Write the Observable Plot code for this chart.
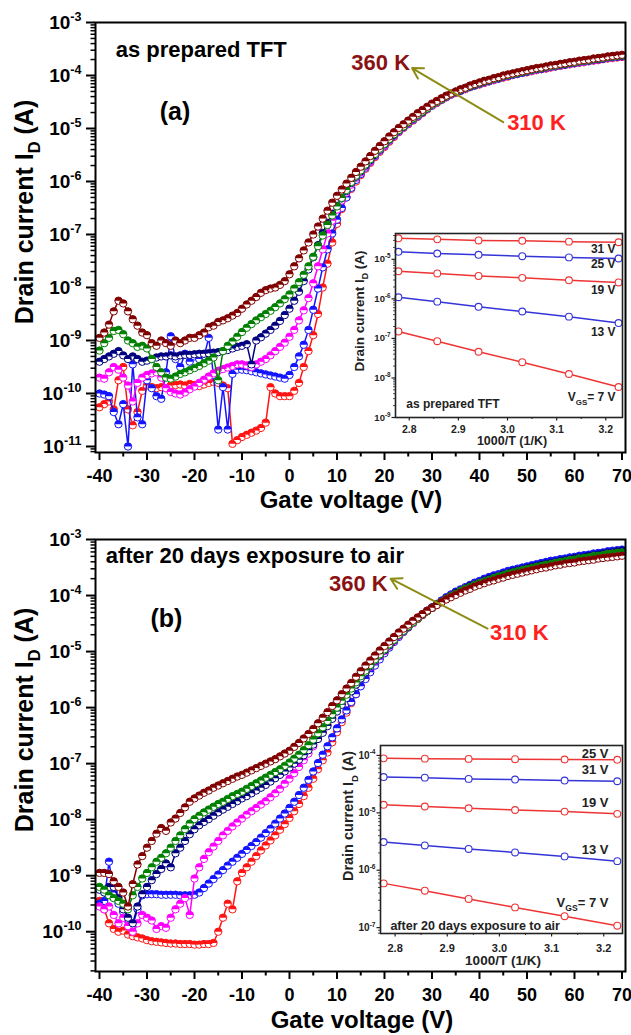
<!DOCTYPE html>
<html><head><meta charset="utf-8">
<script src="https://cdn.jsdelivr.net/npm/d3@7"></script>
<script src="https://cdn.jsdelivr.net/npm/@observablehq/plot@0.6"></script>
<style>
body{margin:0;background:#fff;}
#root{position:relative;width:631px;height:1035px;overflow:hidden;background:#fff;}
#root svg{position:absolute;overflow:visible;}
</style></head><body><div id="root"></div>
<script>
// ---------------- DATA ----------------
const gateVoltage = [-40,-39,-38,-37,-36,-35,-34,-33,-32,-31,-30,-29,-28,-27,-26,-25,-24,-23,-22,-21,-20,-19,-18,-17,-16,-15,-14,-13,-12,-11,-10,-9,-8,-7,-6,-5,-4,-3,-2,-1,0,1,2,3,4,5,6,7,8,9,10,11,12,13,14,15,16,17,18,19,20,21,22,23,24,25,26,27,28,29,30,31,32,33,34,35,36,37,38,39,40,41,42,43,44,45,46,47,48,49,50,51,52,53,54,55,56,57,58,59,60,61,62,63,64,65,66,67,68,69,70];
const temperaturesK = [310, 320, 330, 340, 350, 360];
const seriesColors = ["#ff1414", "#1414ff", "#ff00ff", "#000080", "#008000", "#800000"];

// log10 of drain current (A), panel (a) as prepared TFT
const logId_a_310K = [-10.26,-10.2,-10.15,-10.3,-9.75,-9.5,-10.3,-10.6,-10.35,-9.95,
 -9.85,-9.88,-9.9,-9.88,-9.9,-9.85,-9.84,-9.83,-9.85,-9.82,
 -9.84,-9.86,-9.83,-9.8,-9.78,-9.8,-9.85,-9.9,-10.95,-10.88,
 -10.82,-10.78,-10.74,-10.7,-10.65,-10.55,-9.88,-10.0,-10.05,-10.05,
 -10.05,-9.95,-9.8,-9.5,-9.2,-8.9,-8.5,-8.0,-7.55,-7.15,
 -6.8,-6.52,-6.3,-6.14,-6.0,-5.88,-5.76,-5.65,-5.54,-5.44,
 -5.35,-5.25,-5.16,-5.07,-4.99,-4.92,-4.85,-4.78,-4.71,-4.64,
 -4.57,-4.52,-4.46,-4.41,-4.36,-4.33,-4.29,-4.26,-4.22,-4.19,
 -4.17,-4.14,-4.11,-4.09,-4.06,-4.04,-4.02,-3.99,-3.97,-3.95,
 -3.94,-3.92,-3.9,-3.88,-3.87,-3.85,-3.83,-3.82,-3.8,-3.79,
 -3.77,-3.76,-3.75,-3.73,-3.72,-3.71,-3.69,-3.68,-3.67,-3.66,-3.65];
const logId_a_320K = [-10.0,-10.02,-10.05,-10.35,-10.58,-10.2,-11.0,-9.45,-10.45,-10.58,
 -9.75,-9.9,-10.05,-10.1,-9.6,-8.92,-9.35,-9.5,-9.25,-9.4,
 -9.3,-9.35,-9.3,-8.95,-9.65,-10.68,-9.88,-10.68,-9.63,-9.55,
 -9.55,-9.56,-9.58,-9.6,-9.62,-9.64,-9.66,-9.68,-9.7,-9.72,
 -9.65,-9.5,-9.3,-9.08,-8.8,-8.42,-8.02,-7.62,-7.28,-6.98,
 -6.72,-6.5,-6.3,-6.12,-5.97,-5.86,-5.74,-5.63,-5.52,-5.42,
 -5.33,-5.23,-5.14,-5.06,-4.98,-4.91,-4.84,-4.77,-4.7,-4.63,
 -4.57,-4.51,-4.46,-4.41,-4.36,-4.32,-4.29,-4.25,-4.22,-4.19,
 -4.16,-4.13,-4.11,-4.08,-4.06,-4.03,-4.01,-3.99,-3.97,-3.95,
 -3.93,-3.91,-3.89,-3.88,-3.86,-3.84,-3.83,-3.81,-3.8,-3.78,
 -3.77,-3.75,-3.74,-3.73,-3.71,-3.7,-3.69,-3.67,-3.66,-3.65,-3.64];
const logId_a_330K = [-9.7,-9.72,-9.6,-9.5,-9.55,-9.7,-9.85,-10.15,-9.8,-9.7,
 -9.65,-9.62,-9.6,-9.7,-9.9,-9.97,-10.0,-10.02,-9.98,-9.92,
 -9.87,-9.8,-9.74,-9.68,-9.62,-9.57,-9.54,-9.51,-9.48,-9.45,
 -9.45,-9.47,-9.5,-9.45,-9.4,-9.35,-9.28,-9.2,-9.12,-9.04,
 -8.93,-8.8,-8.62,-8.43,-8.2,-7.92,-7.6,-7.28,-6.98,-6.74,
 -6.53,-6.36,-6.21,-6.06,-5.93,-5.83,-5.72,-5.62,-5.51,-5.41,
 -5.32,-5.22,-5.13,-5.05,-4.98,-4.9,-4.83,-4.76,-4.69,-4.63,
 -4.56,-4.51,-4.46,-4.41,-4.36,-4.32,-4.28,-4.25,-4.21,-4.18,
 -4.15,-4.13,-4.1,-4.08,-4.05,-4.03,-4.0,-3.98,-3.96,-3.94,
 -3.92,-3.91,-3.89,-3.87,-3.86,-3.84,-3.82,-3.81,-3.79,-3.78,
 -3.76,-3.75,-3.74,-3.72,-3.71,-3.7,-3.68,-3.67,-3.66,-3.64,-3.64];
const logId_a_340K = [-9.4,-9.35,-9.3,-9.25,-9.2,-9.28,-9.35,-9.3,-9.35,-9.4,
 -9.38,-9.35,-9.32,-9.3,-9.3,-9.28,-9.3,-9.28,-9.27,-9.27,
 -9.26,-9.25,-9.25,-9.24,-9.23,-9.22,-9.2,-9.18,-9.15,-9.12,
 -9.1,-9.07,-9.45,-9.0,-8.94,-8.87,-8.8,-8.72,-8.63,-8.52,
 -8.4,-8.25,-8.08,-7.88,-7.66,-7.43,-7.2,-6.97,-6.78,-6.61,
 -6.46,-6.32,-6.18,-6.03,-5.91,-5.81,-5.7,-5.6,-5.5,-5.4,
 -5.3,-5.21,-5.12,-5.04,-4.97,-4.89,-4.82,-4.75,-4.69,-4.62,
 -4.55,-4.5,-4.45,-4.4,-4.35,-4.31,-4.28,-4.24,-4.21,-4.18,
 -4.15,-4.12,-4.1,-4.07,-4.05,-4.02,-4.0,-3.98,-3.96,-3.94,
 -3.92,-3.9,-3.88,-3.87,-3.85,-3.83,-3.82,-3.8,-3.79,-3.77,
 -3.76,-3.74,-3.73,-3.72,-3.7,-3.69,-3.68,-3.66,-3.65,-3.64,-3.63];
const logId_a_350K = [-9.19,-9.05,-8.95,-8.82,-8.8,-8.88,-9.0,-9.05,-9.12,-9.1,
 -9.15,-9.35,-9.5,-9.6,-9.7,-9.72,-9.68,-9.63,-9.6,-9.56,
 -9.52,-9.48,-9.43,-9.38,-9.32,-9.75,-9.2,-9.1,-9.02,-8.93,
 -8.84,-8.76,-8.69,-8.62,-8.56,-8.5,-8.44,-8.37,-8.3,-8.22,
 -8.13,-8.02,-7.9,-7.76,-7.6,-7.42,-7.22,-7.02,-6.82,-6.64,
 -6.47,-6.31,-6.16,-6.01,-5.89,-5.79,-5.68,-5.58,-5.48,-5.38,
 -5.29,-5.2,-5.11,-5.03,-4.96,-4.88,-4.81,-4.74,-4.68,-4.62,
 -4.55,-4.5,-4.45,-4.39,-4.35,-4.31,-4.27,-4.24,-4.2,-4.17,
 -4.14,-4.11,-4.09,-4.06,-4.04,-4.01,-3.99,-3.97,-3.95,-3.93,
 -3.91,-3.89,-3.87,-3.86,-3.84,-3.82,-3.81,-3.79,-3.78,-3.76,
 -3.75,-3.73,-3.72,-3.71,-3.69,-3.68,-3.67,-3.65,-3.64,-3.63,-3.62];
const logId_a_360K = [-8.95,-8.85,-8.7,-8.45,-8.25,-8.3,-8.45,-8.6,-8.72,-8.85,
 -8.9,-9.05,-9.1,-9.0,-9.05,-9.1,-9.0,-9.05,-9.0,-8.95,
 -8.95,-8.9,-8.85,-8.75,-8.72,-8.65,-8.62,-8.58,-8.53,-8.48,
 -8.4,-8.32,-8.25,-8.18,-8.1,-8.05,-8.02,-8.0,-7.95,-7.88,
 -7.75,-7.6,-7.45,-7.3,-7.15,-7.0,-6.85,-6.7,-6.55,-6.4,
 -6.27,-6.15,-6.04,-5.93,-5.82,-5.72,-5.62,-5.52,-5.42,-5.33,
 -5.24,-5.15,-5.07,-4.99,-4.92,-4.85,-4.78,-4.71,-4.65,-4.59,
 -4.53,-4.48,-4.43,-4.38,-4.34,-4.3,-4.26,-4.23,-4.19,-4.16,
 -4.13,-4.1,-4.08,-4.05,-4.03,-4.0,-3.98,-3.96,-3.94,-3.92,
 -3.9,-3.88,-3.86,-3.85,-3.83,-3.81,-3.8,-3.78,-3.77,-3.75,
 -3.74,-3.72,-3.71,-3.7,-3.68,-3.67,-3.66,-3.64,-3.63,-3.62,-3.61];

// log10 of drain current (A), panel (b) after 20 days exposure to air
const logId_b_310K = [-9.45,-9.6,-9.85,-9.95,-10.0,-9.98,-10.05,-10.08,-10.1,-10.12,
 -10.15,-10.17,-10.18,-10.19,-10.2,-10.21,-10.21,-10.22,-10.22,-10.22,
 -10.23,-10.23,-10.22,-10.22,-10.2,-10.0,-9.75,-9.5,-9.6,-9.1,
 -8.95,-8.85,-8.75,-8.65,-8.55,-8.46,-8.37,-8.28,-8.18,-8.08,
 -7.97,-7.85,-7.72,-7.58,-7.43,-7.27,-7.1,-6.94,-6.8,-6.62,
 -6.44,-6.26,-6.09,-5.92,-5.76,-5.61,-5.47,-5.34,-5.22,-5.11,
 -5.01,-4.91,-4.82,-4.73,-4.65,-4.57,-4.49,-4.42,-4.35,-4.28,
 -4.22,-4.17,-4.11,-4.06,-4.01,-3.97,-3.92,-3.88,-3.85,-3.81,
 -3.78,-3.75,-3.72,-3.69,-3.67,-3.64,-3.62,-3.6,-3.58,-3.56,
 -3.54,-3.52,-3.5,-3.48,-3.47,-3.45,-3.43,-3.42,-3.4,-3.39,
 -3.37,-3.36,-3.35,-3.34,-3.32,-3.31,-3.3,-3.29,-3.28,-3.26,-3.25];
const logId_b_320K = [-9.5,-9.45,-8.75,-9.3,-9.5,-9.65,-9.8,-9.9,-9.6,-9.35,
 -9.33,-9.33,-9.33,-9.34,-9.34,-9.34,-9.34,-9.35,-9.35,-9.35,
 -9.34,-9.3,-9.22,-9.14,-9.06,-8.98,-8.9,-8.82,-8.75,-8.68,
 -8.61,-8.54,-8.47,-8.4,-8.32,-8.24,-8.16,-8.07,-7.98,-7.89,
 -7.79,-7.68,-7.56,-7.43,-7.29,-7.14,-6.99,-6.84,-6.69,-6.53,
 -6.37,-6.21,-6.05,-5.9,-5.76,-5.62,-5.49,-5.37,-5.25,-5.14,
 -5.03,-4.93,-4.83,-4.74,-4.65,-4.57,-4.49,-4.41,-4.34,-4.27,
 -4.21,-4.15,-4.09,-4.03,-3.98,-3.93,-3.89,-3.85,-3.81,-3.77,
 -3.74,-3.7,-3.67,-3.64,-3.62,-3.59,-3.56,-3.54,-3.52,-3.5,
 -3.48,-3.46,-3.44,-3.42,-3.4,-3.38,-3.37,-3.35,-3.34,-3.32,
 -3.31,-3.29,-3.28,-3.27,-3.25,-3.24,-3.23,-3.21,-3.2,-3.19,-3.18];
const logId_b_330K = [-9.55,-9.6,-9.55,-9.7,-9.85,-9.75,-9.9,-10.0,-9.85,-9.7,
 -9.75,-9.8,-9.95,-9.9,-9.93,-9.75,-9.6,-9.5,-9.4,-9.7,
 -9.05,-8.85,-8.7,-8.58,-8.48,-8.38,-8.28,-8.2,-8.12,-8.05,
 -7.98,-7.91,-7.85,-7.79,-7.73,-7.67,-7.6,-7.53,-7.45,-7.36,
 -7.27,-7.17,-7.06,-6.94,-6.82,-6.69,-6.56,-6.43,-6.3,-6.17,
 -6.04,-5.92,-5.8,-5.69,-5.58,-5.47,-5.37,-5.27,-5.17,-5.08,
 -4.99,-4.9,-4.81,-4.72,-4.64,-4.56,-4.49,-4.41,-4.34,-4.28,
 -4.22,-4.16,-4.1,-4.05,-4.0,-3.96,-3.91,-3.87,-3.84,-3.8,
 -3.77,-3.74,-3.71,-3.68,-3.65,-3.63,-3.6,-3.58,-3.56,-3.54,
 -3.52,-3.5,-3.48,-3.46,-3.44,-3.43,-3.41,-3.4,-3.38,-3.37,
 -3.35,-3.34,-3.33,-3.31,-3.3,-3.29,-3.28,-3.26,-3.25,-3.24,-3.23];
const logId_b_340K = [-9.25,-9.3,-9.2,-9.2,-9.4,-9.6,-9.75,-9.85,-9.55,-9.33,
 -9.2,-9.08,-8.97,-8.88,-8.78,-8.85,-8.6,-8.5,-8.38,-8.26,
 -8.17,-8.1,-8.04,-7.99,-7.93,-7.87,-7.82,-7.77,-7.72,-7.67,
 -7.62,-7.58,-7.53,-7.48,-7.43,-7.38,-7.32,-7.26,-7.2,-7.14,
 -7.07,-7.0,-6.93,-6.85,-6.76,-6.66,-6.56,-6.45,-6.33,-6.2,
 -6.07,-5.95,-5.83,-5.71,-5.59,-5.48,-5.37,-5.26,-5.16,-5.07,
 -4.98,-4.89,-4.8,-4.71,-4.63,-4.56,-4.48,-4.41,-4.34,-4.28,
 -4.22,-4.16,-4.1,-4.05,-4.0,-3.95,-3.91,-3.87,-3.83,-3.8,
 -3.77,-3.73,-3.7,-3.67,-3.65,-3.62,-3.6,-3.57,-3.55,-3.53,
 -3.51,-3.49,-3.47,-3.45,-3.43,-3.42,-3.4,-3.38,-3.37,-3.35,
 -3.33,-3.32,-3.31,-3.29,-3.28,-3.27,-3.25,-3.24,-3.23,-3.21,-3.2];
const logId_b_350K = [-9.2,-9.25,-9.35,-9.4,-9.45,-9.5,-9.6,-9.35,-9.2,-9.05,
 -8.95,-8.85,-8.75,-8.68,-8.6,-8.5,-8.38,-8.28,-8.17,-8.07,
 -7.99,-7.93,-7.87,-7.82,-7.77,-7.72,-7.68,-7.63,-7.58,-7.54,
 -7.5,-7.45,-7.4,-7.35,-7.3,-7.25,-7.2,-7.15,-7.1,-7.04,
 -6.98,-6.91,-6.84,-6.76,-6.67,-6.57,-6.46,-6.35,-6.24,-6.12,
 -6.0,-5.88,-5.77,-5.66,-5.55,-5.44,-5.34,-5.24,-5.14,-5.05,
 -4.96,-4.87,-4.79,-4.7,-4.63,-4.55,-4.48,-4.41,-4.34,-4.28,
 -4.22,-4.16,-4.11,-4.06,-4.01,-3.97,-3.92,-3.88,-3.85,-3.81,
 -3.78,-3.75,-3.72,-3.69,-3.66,-3.64,-3.61,-3.59,-3.57,-3.55,
 -3.53,-3.51,-3.49,-3.47,-3.45,-3.44,-3.42,-3.4,-3.39,-3.37,
 -3.36,-3.34,-3.33,-3.32,-3.3,-3.29,-3.28,-3.26,-3.25,-3.24,-3.23];
const logId_b_360K = [-8.95,-8.95,-8.97,-9.1,-9.2,-9.3,-9.55,-9.15,-8.8,-8.65,
 -8.5,-8.38,-8.25,-8.15,-8.2,-8.05,-7.98,-7.88,-7.78,-7.68,
 -7.62,-7.57,-7.52,-7.48,-7.43,-7.39,-7.35,-7.31,-7.27,-7.23,
 -7.2,-7.16,-7.12,-7.08,-7.04,-7.0,-6.96,-6.92,-6.87,-6.82,
 -6.77,-6.7,-6.63,-6.55,-6.47,-6.38,-6.28,-6.18,-6.08,-5.97,
 -5.87,-5.76,-5.66,-5.56,-5.45,-5.35,-5.25,-5.16,-5.07,-4.98,
 -4.9,-4.82,-4.74,-4.66,-4.59,-4.52,-4.45,-4.39,-4.33,-4.27,
 -4.22,-4.17,-4.12,-4.07,-4.03,-3.99,-3.95,-3.91,-3.88,-3.84,
 -3.81,-3.78,-3.75,-3.73,-3.7,-3.68,-3.65,-3.63,-3.61,-3.59,
 -3.57,-3.55,-3.53,-3.51,-3.5,-3.48,-3.46,-3.45,-3.43,-3.42,
 -3.41,-3.39,-3.38,-3.37,-3.36,-3.34,-3.33,-3.32,-3.31,-3.3,-3.29];

// Insets: drain current (A) vs 1000/T, T = 360 ... 310 K
const inverseT = [2.778, 2.857, 2.941, 3.030, 3.125, 3.226];
const insetA_31V = [3.4e-5, 3.2e-5, 3.0e-5, 2.95e-5, 2.8e-5, 2.7e-5];
const insetA_25V = [1.55e-5, 1.4e-5, 1.3e-5, 1.2e-5, 1.12e-5, 1.05e-5];
const insetA_19V = [5.0e-6, 4.4e-6, 3.8e-6, 3.4e-6, 2.95e-6, 2.6e-6];
const insetA_13V = [1.1e-6, 8.5e-7, 6.3e-7, 4.8e-7, 3.55e-7, 2.45e-7];
const insetA_7V  = [1.5e-7, 8.5e-8, 4.6e-8, 2.5e-8, 1.26e-8, 5.9e-9];
const insetB_25V = [8.9e-5, 8.8e-5, 8.7e-5, 8.6e-5, 8.5e-5, 8.4e-5];
const insetB_31V = [4.2e-5, 4.1e-5, 3.9e-5, 3.8e-5, 3.65e-5, 3.55e-5];
const insetB_19V = [1.38e-5, 1.29e-5, 1.2e-5, 1.12e-5, 1.05e-5, 9.6e-6];
const insetB_13V = [3.1e-6, 2.7e-6, 2.35e-6, 2.04e-6, 1.74e-6, 1.44e-6];
const insetB_7V  = [5.9e-7, 4.4e-7, 3.16e-7, 2.25e-7, 1.58e-7, 1.08e-7];
const insetRed = "#ee3434", insetBlue = "#3434d8";

// Tick values / labels
const xMajorTicks = [-40,-30,-20,-10,0,10,20,30,40,50,60,70];
const xMinorTicks = [-35,-25,-15,-5,5,15,25,35,45,55,65];
const insetXTicks = [2.8, 2.9, 3.0, 3.1, 3.2];
const insetXMinor = [2.85, 2.95, 3.05, 3.15];

// ---------------- HELPERS ----------------
const NS = "http://www.w3.org/2000/svg";
const FONT = "'Liberation Sans', Arial, Helvetica, sans-serif";
const root = document.getElementById("root");
const halfUp = { draw(ctx, size) { const r = Math.sqrt(size / Math.PI); ctx.moveTo(r, 0); ctx.arc(0, 0, r, 0, Math.PI, true); ctx.closePath(); } };

function decades(lo, hi) { const out = []; for (let k = lo; k <= hi; k++) out.push(Math.pow(10, k)); return out; }
function minors(lo, hi, dom) { const out = []; for (let k = lo; k <= hi; k++) for (let m = 2; m <= 9; m++) { const v = m * Math.pow(10, k); if (v >= dom[0] && v <= dom[1]) out.push(v); } return out; }
const expFmt = d => `10^{${Math.round(Math.log10(d))}}`;

function richify(svg) {
  svg.querySelectorAll("text").forEach(el => {
    const s = el.textContent;
    if (!/[\^_]\{/.test(s)) return;
    const fs = parseFloat(getComputedStyle(el).fontSize) || 12;
    while (el.firstChild) el.removeChild(el.firstChild);
    const re = /([\^_])\{([^}]*)\}/g;
    let last = 0, m, shift = 0;
    const add = (txt, kind) => {
      const t = document.createElementNS(NS, "tspan");
      t.textContent = txt;
      const target = kind === "^" ? -0.42 * fs : kind === "_" ? 0.3 * fs : 0;
      if (target !== shift) { t.setAttribute("dy", target - shift); shift = target; }
      if (kind) t.setAttribute("font-size", 0.66 * fs);
      el.appendChild(t);
    };
    while ((m = re.exec(s))) {
      if (m.index > last) add(s.slice(last, m.index), null);
      add(m[2], m[1]);
      last = re.lastIndex;
    }
    if (last < s.length) add(s.slice(last), null);
  });
}

function place(svg, left, top) { svg.style.left = left + "px"; svg.style.top = top + "px"; root.appendChild(svg); richify(svg); }

function mainPanel(cfg) {
  const marks = [];
  cfg.series.forEach((vals, k) => {
    const rows = gateVoltage.map((v, i) => ({V: v, I: Math.pow(10, vals[i])}));
    const c = seriesColors[k];
    marks.push(Plot.line(rows, {x: "V", y: "I", stroke: c, strokeWidth: 1.5}));
    marks.push(Plot.dot(rows, {x: "V", y: "I", r: 3.7, fill: "white", stroke: c, strokeWidth: 1}));
    marks.push(Plot.dot(rows, {x: "V", y: "I", r: 3.7, fill: c, symbol: halfUp}));
  });
  marks.push(Plot.arrow(cfg.arrow, {x1: "x1", y1: "y1", x2: "x2", y2: "y2", stroke: "#8c8c14", strokeWidth: 2, headLength: 9, inset: 0}));
  cfg.notes.forEach(n => marks.push(Plot.text([n], {x: "x", y: "y", text: "t", fill: n.c, fontSize: n.fs, textAnchor: n.anchor || "middle", fontWeight: "bold"})));
  const yd = cfg.yDomain;
  marks.push(Plot.axisX({ticks: xMajorTicks, tickSize: 8, tickPadding: 9, tickFormat: d => String(d), fontSize: 18, strokeWidth: 2, label: null}));
  marks.push(Plot.axisX({ticks: xMinorTicks, tickSize: 4.5, tickFormat: () => "", strokeWidth: 2, label: null}));
  marks.push(Plot.axisY({ticks: decades(-11, -3).filter(v => v >= yd[0]), tickSize: 9, tickPadding: 5, tickFormat: expFmt, fontSize: 19, strokeWidth: 2, label: null}));
  marks.push(Plot.axisY({ticks: minors(-12, -4, yd), tickSize: 4.5, tickFormat: () => "", strokeWidth: 1.5, label: null}));
  marks.push(Plot.frame({strokeWidth: 2}));
  return Plot.plot({
    width: 631, height: cfg.height,
    marginLeft: 95, marginRight: 6, marginTop: cfg.mt, marginBottom: cfg.mb,
    x: {domain: [-40.84, 70.74]},
    y: {type: "log", domain: yd},
    style: {fontFamily: FONT, fontWeight: "bold", background: "transparent", color: "black"},
    marks
  });
}

function insetPanel(cfg) {
  const marks = [Plot.frame({fill: "white", stroke: null})];
  cfg.series.forEach(s => {
    const rows = inverseT.map((x, i) => ({x, I: s.vals[i]}));
    marks.push(Plot.line(rows, {x: "x", y: "I", stroke: s.color, strokeWidth: 1.5}));
    marks.push(Plot.dot(rows, {x: "x", y: "I", r: 3.4, fill: "white", stroke: s.color, strokeWidth: 1.1}));
  });
  cfg.notes.forEach(n => marks.push(Plot.text([n], {x: "x", y: "y", text: "t", fontSize: n.fs, textAnchor: n.anchor, fontWeight: "bold", fill: "#222"})));
  const yd = cfg.yDomain;
  marks.push(Plot.axisX({ticks: insetXTicks, tickSize: 3.5, tickPadding: cfg.xPad, tickFormat: d3.format(".1f"), fontSize: cfg.xfs, strokeWidth: 1.2, label: null}));
  marks.push(Plot.axisX({ticks: insetXMinor, tickSize: 2, tickFormat: () => "", strokeWidth: 1, label: null}));
  marks.push(Plot.axisY({ticks: decades(cfg.dec[0], cfg.dec[1]), tickSize: 3.5, tickPadding: 1.5, tickFormat: expFmt, fontSize: cfg.yfs, strokeWidth: 1.2, label: null}));
  marks.push(Plot.axisY({ticks: minors(cfg.dec[0] - 1, cfg.dec[1], yd), tickSize: 2, tickFormat: () => "", strokeWidth: 0.8, label: null}));
  marks.push(Plot.frame({strokeWidth: 1.6, stroke: "#222"}));
  return Plot.plot({
    width: cfg.w, height: cfg.h,
    marginLeft: cfg.ml, marginRight: cfg.mr, marginTop: cfg.mt, marginBottom: cfg.mb,
    x: {domain: cfg.xDomain},
    y: {type: "log", domain: yd},
    style: {fontFamily: FONT, fontWeight: "bold", background: "transparent", color: "#222"},
    marks
  });
}

// ---------------- PANEL (a) ----------------
const plotA = mainPanel({
  series: [logId_a_310K, logId_a_320K, logId_a_330K, logId_a_340K, logId_a_350K, logId_a_360K],
  height: 500, mt: 22, mb: 48, yDomain: [7.7e-12, 1e-3],
  arrow: [{x1: 45.0, y1: Math.pow(10, -4.88), x2: 25.8, y2: Math.pow(10, -3.86)}],
  notes: [
    {t: "as prepared TFT", x: -36.6, y: Math.pow(10, -3.52), fs: 22, c: "black", anchor: "start"},
    {t: "(a)", x: -24.1, y: Math.pow(10, -4.68), fs: 25, c: "black"},
    {t: "360 K", x: 19.2, y: Math.pow(10, -3.77), fs: 22, c: "#8b1212"},
    {t: "310 K", x: 52.0, y: Math.pow(10, -4.89), fs: 22, c: "#ff2020"}
  ]
});
place(plotA, 0, 0);

const insetA = insetPanel({
  w: 290, h: 240, ml: 55, mr: 8, mt: 18, mb: 38,
  xDomain: [2.772, 3.234], yDomain: [1e-9, 4.5e-5], dec: [-9, -5], xPad: 5, xfs: 10.5, yfs: 9.5,
  series: [
    {vals: insetA_31V, color: insetRed}, {vals: insetA_25V, color: insetBlue}, {vals: insetA_19V, color: insetRed},
    {vals: insetA_13V, color: insetBlue}, {vals: insetA_7V, color: insetRed}
  ],
  notes: [
    {t: "31 V", x: 3.22, y: Math.pow(10, -4.75), fs: 12, anchor: "end"},
    {t: "25 V", x: 3.22, y: Math.pow(10, -5.11), fs: 12, anchor: "end"},
    {t: "19 V", x: 3.22, y: Math.pow(10, -5.79), fs: 12, anchor: "end"},
    {t: "13 V", x: 3.22, y: Math.pow(10, -6.85), fs: 12, anchor: "end"},
    {t: "V_{GS}= 7 V", x: 3.22, y: Math.pow(10, -8.49), fs: 12, anchor: "end"},
    {t: "as prepared TFT", x: 2.794, y: Math.pow(10, -8.65), fs: 12, anchor: "start"}
  ]
});
place(insetA, 340, 215);

// ---------------- PANEL (b) ----------------
const plotB = mainPanel({
  series: [logId_b_310K, logId_b_320K, logId_b_330K, logId_b_340K, logId_b_350K, logId_b_360K],
  height: 530, mt: 34, mb: 64, yDomain: [1.95e-11, 1e-3],
  arrow: [{x1: 41.7, y1: Math.pow(10, -4.59), x2: 21.3, y2: Math.pow(10, -3.70)}],
  notes: [
    {t: "after 20 days exposure to air", x: -38.7, y: Math.pow(10, -3.30), fs: 22, c: "black", anchor: "start"},
    {t: "(b)", x: -25.9, y: Math.pow(10, -4.41), fs: 25, c: "black"},
    {t: "360 K", x: 14.5, y: Math.pow(10, -3.80), fs: 22, c: "#8b1212"},
    {t: "310 K", x: 48.4, y: Math.pow(10, -4.66), fs: 22, c: "#ff2020"}
  ]
});
place(plotB, 0, 505);

const insetB = insetPanel({
  w: 300, h: 250, ml: 50, mr: 8, mt: 17, mb: 45,
  xDomain: [2.772, 3.236], yDomain: [7.9e-8, 1.49e-4], dec: [-7, -4], xPad: 7, xfs: 11, yfs: 10,
  series: [
    {vals: insetB_25V, color: insetRed}, {vals: insetB_31V, color: insetBlue}, {vals: insetB_19V, color: insetRed},
    {vals: insetB_13V, color: insetBlue}, {vals: insetB_7V, color: insetRed}
  ],
  notes: [
    {t: "25 V", x: 3.209, y: Math.pow(10, -3.97), fs: 13, anchor: "end"},
    {t: "31 V", x: 3.209, y: Math.pow(10, -4.25), fs: 13, anchor: "end"},
    {t: "19 V", x: 3.209, y: Math.pow(10, -4.82), fs: 13, anchor: "end"},
    {t: "13 V", x: 3.209, y: Math.pow(10, -5.65), fs: 13, anchor: "end"},
    {t: "V_{GS}= 7 V", x: 3.209, y: Math.pow(10, -6.57), fs: 13, anchor: "end"},
    {t: "after 20 days exposure to air", x: 2.791, y: Math.pow(10, -6.97), fs: 12.5, anchor: "start"}
  ]
});
place(insetB, 330, 728);

// ---------------- AXIS TITLES ----------------
const axisTitles = [
  {t: "Gate voltage (V)", x: 351, y: 499, fs: 24},
  {t: "Gate voltage (V)", x: 362, y: 1019, fs: 24},
  {t: "Drain current I_{D} (A)", x: 24, y: 212, fs: 25, rot: true},
  {t: "Drain current I_{D} (A)", x: 24, y: 720, fs: 25, rot: true},
  {t: "1000/T (1/K)", x: 512, y: 441, fs: 12.5},
  {t: "1000/T (1/K)", x: 503, y: 960, fs: 13.5},
  {t: "Drain current I_{D} (A)", x: 359, y: 311, fs: 13.5, rot: true},
  {t: "Drain current I_{D} (A)", x: 348, y: 816, fs: 14.5, rot: true}
];
const overlay = document.createElementNS(NS, "svg");
overlay.setAttribute("width", 631); overlay.setAttribute("height", 1035);
overlay.style.cssText = `left:0;top:0;font-family:${FONT};font-weight:bold;pointer-events:none;`;
root.appendChild(overlay);
axisTitles.forEach(a => {
  const t = document.createElementNS(NS, "text");
  t.textContent = a.t;
  t.setAttribute("font-size", a.fs);
  t.setAttribute("text-anchor", "middle");
  t.setAttribute("fill", a.fs < 16 ? "#222" : "black");
  if (a.rot) { t.setAttribute("transform", `translate(${a.x},${a.y}) rotate(-90)`); t.setAttribute("y", 0.358 * a.fs); }
  else { t.setAttribute("x", a.x); t.setAttribute("y", a.y + 0.358 * a.fs); }
  overlay.appendChild(t);
});
richify(overlay);
</script></body></html>
